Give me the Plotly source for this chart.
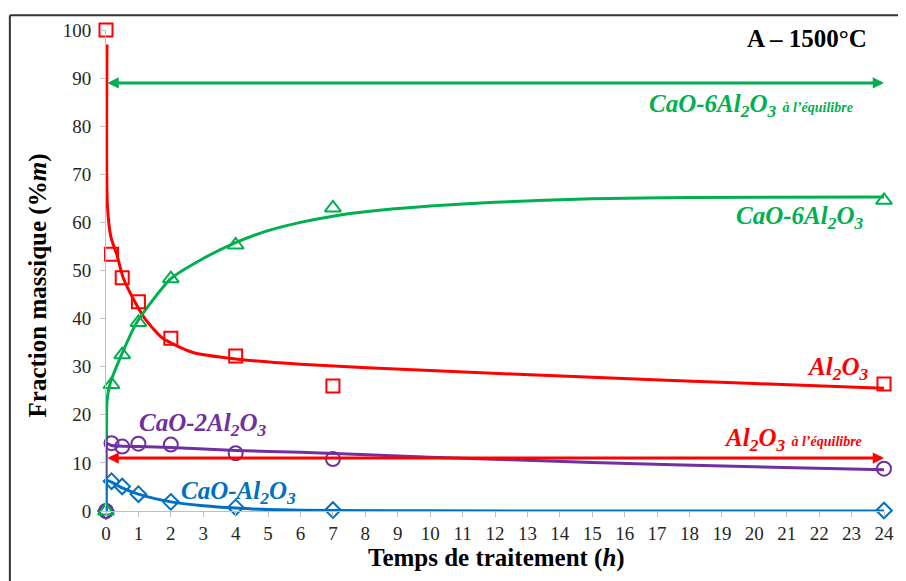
import plotly.graph_objects as go

# ---- measured data (points) ----
t_pts = [0, 0.17, 0.5, 1, 2, 4, 7, 24]
al2o3 = [100, 53.4, 48.5, 43.5, 35.9, 32.2, 26.0, 26.4]
ca6 = [0, 26.3, 32.5, 39.2, 48.3, 55.3, 63.0, 64.6]
ca2 = [0, 14.1, 13.4, 14.0, 13.8, 12.0, 10.8, 8.8]
ca1 = [0, 6.2, 5.1, 3.5, 1.9, 0.75, 0.2, 0.1]

# ---- fitted curves ----
fit_al2o3_t = [0.03, 0.04, 0.15, 0.33, 0.53, 0.89, 1.2, 1.75, 2.66, 4, 6, 10, 15, 20, 24]
fit_al2o3_y = [97, 64, 57, 53.4, 48.5, 43.5, 40.0, 35.9, 33.0, 31.6, 30.5, 29.2, 27.8, 26.5, 25.5]
fit_ca6_t = [0, 0.02, 0.03, 0.12, 0.48, 0.95, 2, 3, 4, 5, 6, 7, 8, 10, 12, 15, 18, 24]
fit_ca6_y = [0, 20, 22.8, 26.3, 32.5, 39.2, 48.3, 52.5, 55.8, 58.3, 60.0, 61.3, 62.2, 63.4, 64.2, 64.9, 65.2, 65.3]
fit_ca2_t = [0, 0.03, 0.17, 1, 2, 4, 6, 10, 15, 20, 24]
fit_ca2_y = [0, 14.0, 13.6, 13.4, 13.2, 12.6, 12.2, 11.2, 10.1, 9.2, 8.6]
fit_ca1_t = [0, 0.05, 0.17, 0.5, 1, 2, 3, 4, 5, 7, 10, 24]
fit_ca1_y = [0, 6.3, 6.0, 4.8, 3.5, 1.9, 1.1, 0.6, 0.3, 0.1, 0.03, 0]

eq_ca6 = 89
eq_al2o3 = 11

x_ticks = list(range(0, 25))
y_ticks = list(range(0, 101, 10))

RED = "#FF0000"
GREEN = "#00B050"
PURPLE = "#7030A0"
BLUE = "#0070C0"
FONT = "Liberation Serif"

# reference pixel geometry of the plot area (page pixels)
PX0, PX1, PY0, PY1 = 106, 891, 24, 511
SX = (PX1 - PX0) / 24.0
SY = (PY1 - PY0) / 100.0


def dx(px):
    return (px - PX0) / SX


def dy(py):
    return (PY1 - py) / SY


def paper_x(px):
    return (px - PX0) / (PX1 - PX0)


def paper_y(py):
    return (PY1 - py) / (PY1 - PY0)


fig = go.Figure()

for tx, ty, col in [(fit_al2o3_t, fit_al2o3_y, RED), (fit_ca6_t, fit_ca6_y, GREEN),
                    (fit_ca2_t, fit_ca2_y, PURPLE), (fit_ca1_t, fit_ca1_y, BLUE)]:
    fig.add_trace(go.Scatter(x=tx, y=ty, mode="lines",
                             line=dict(color=col, width=3, shape="spline", smoothing=0.6),
                             cliponaxis=False, showlegend=False, hoverinfo="skip"))

for ys, col, sym, sz in [(ca1, BLUE, "diamond-open", 12), (ca2, PURPLE, "circle-open", 14),
                         (ca6, GREEN, "triangle-up-open", 14), (al2o3, RED, "square-open", 13)]:
    fig.add_trace(go.Scatter(x=t_pts, y=ys, mode="markers",
                             marker=dict(symbol=sym, size=sz, color=col, line=dict(width=2, color=col)),
                             cliponaxis=False, showlegend=False))

ann = []
# equilibrium arrows
for yv, col in [(eq_ca6, GREEN), (eq_al2o3, RED)]:
    ann.append(dict(x=24, y=yv, ax=0, ay=yv, xref="x", yref="y", axref="x", ayref="y",
                    text="", showarrow=True, arrowhead=2, startarrowhead=2, arrowside="end+start",
                    arrowsize=0.75, startarrowsize=0.75, arrowwidth=3, arrowcolor=col))


def lab(txt, px, py, col, size=25):
    return dict(x=dx(px), y=dy(py), xref="x", yref="y", text=txt, showarrow=False,
                xanchor="center", yanchor="middle",
                font=dict(family=FONT, size=size, color=col))


def sub(s):
    return "<sub>%s</sub>" % s


small = '<span style="font-size:14px">%s</span>'
ann.append(lab("<b><i>CaO-6Al" + sub("2") + "O" + sub("3") + " " + small % "à l’équilibre" + "</i></b>",
               757, 100, GREEN))
ann.append(lab("<b><i>CaO-6Al" + sub("2") + "O" + sub("3") + "</i></b>", 806, 214, GREEN))
ann.append(lab("<b><i>Al" + sub("2") + "O" + sub("3") + "</i></b>", 844, 367, RED))
ann.append(lab("<b><i>Al" + sub("2") + "O" + sub("3") + " " + small % "à l’équilibre" + "</i></b>",
               799, 439, RED))
ann.append(lab("<b><i>CaO-2Al" + sub("2") + "O" + sub("3") + "</i></b>", 204, 423, PURPLE))
ann.append(lab("<b><i>CaO-Al" + sub("2") + "O" + sub("3") + "</i></b>", 240, 492, BLUE))
ann.append(lab("<b>A – 1500°C</b>", 813, 33, "black", 25))

# axis titles
ann.append(dict(x=paper_x(500), y=paper_y(559), xref="paper", yref="paper",
                text="<b>Temps de traitement (<i>h</i>)</b>", showarrow=False,
                xanchor="center", yanchor="middle", font=dict(family=FONT, size=25, color="black")))
ann.append(dict(x=paper_x(37), y=paper_y(283), xref="paper", yref="paper",
                text="<b>Fraction massique (%<i>m</i>)</b>", showarrow=False, textangle=-90,
                xanchor="center", yanchor="middle", font=dict(family=FONT, size=25, color="black")))

# the page body adds an 8 px offset, so the figure is 898x573 with margins shifted by 8
OFF = 8
W, H = 906 - OFF, 581 - OFF
fig.update_layout(
    width=W, height=H,
    margin=dict(l=PX0 - OFF, r=W - (PX1 - OFF), t=PY0 - OFF, b=H - (PY1 - OFF)),
    paper_bgcolor="white", plot_bgcolor="white",
    showlegend=False,
    annotations=ann,
    shapes=[
        dict(type="line", xref="paper", yref="paper", x0=paper_x(9), x1=paper_x(9),
             y0=paper_y(9), y1=paper_y(600), line=dict(color="#333333", width=2)),
        dict(type="line", xref="paper", yref="paper", x0=paper_x(9), x1=paper_x(920),
             y0=paper_y(9), y1=paper_y(9), line=dict(color="#333333", width=2)),
    ],
)
fig.update_xaxes(range=[0, 24], tickvals=x_ticks, ticktext=[str(v) for v in x_ticks],
                 showgrid=False, zeroline=False, showline=True, linecolor="#BFBFBF", linewidth=1,
                 ticks="outside", ticklen=5, tickcolor="#BFBFBF", ticklabelstandoff=0,
                 tickfont=dict(family=FONT, size=19, color="#262626"))
fig.update_yaxes(range=[0, 100], tickvals=y_ticks, ticktext=[str(v) for v in y_ticks],
                 showgrid=False, zeroline=False, showline=True, linecolor="#BFBFBF", linewidth=1,
                 ticks="outside", ticklen=5, tickcolor="#BFBFBF", ticklabelstandoff=5,
                 tickfont=dict(family=FONT, size=19, color="#262626"))

fig.write_html("out.html")
